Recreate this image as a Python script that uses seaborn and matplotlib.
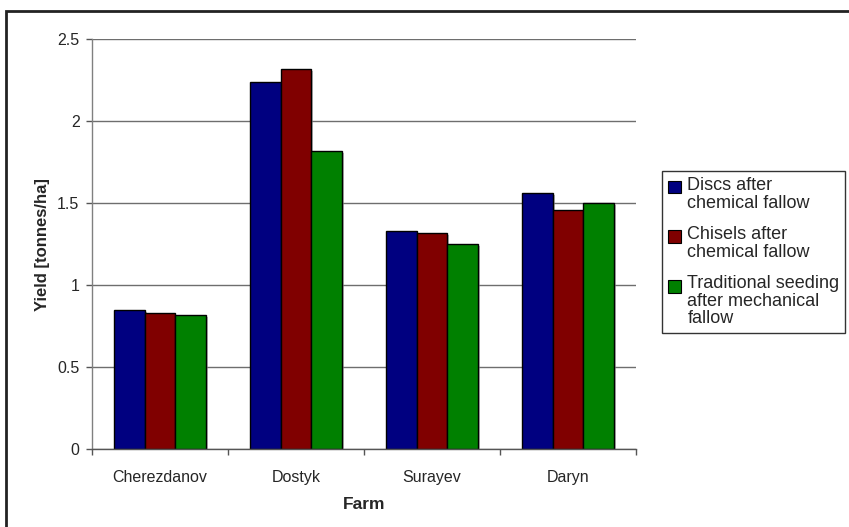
import matplotlib
matplotlib.use("Agg")
import matplotlib.pyplot as plt
import matplotlib.patheffects as pe
from matplotlib.patches import Rectangle
from matplotlib.legend_handler import HandlerPatch
from matplotlib.ticker import FixedLocator
import seaborn as sns
import pandas as pd

# Yields per farm and seeding treatment
farms = ["Cherezdanov", "Dostyk", "Surayev", "Daryn"]
treatments = [
    "Discs after\nchemical fallow",
    "Chisels after\nchemical fallow",
    "Traditional seeding\nafter mechanical\nfallow",
]
discs_chemical = [0.85, 2.24, 1.33, 1.56]
chisels_chemical = [0.83, 2.32, 1.32, 1.46]
traditional_mechanical = [0.82, 1.82, 1.25, 1.50]
colors = ["#000080", "#800000", "#008000"]
y_ticks = [0, 0.5, 1, 1.5, 2, 2.5]

rows = []
for t, vals in zip(treatments, [discs_chemical, chisels_chemical, traditional_mechanical]):
    for f, v in zip(farms, vals):
        rows.append({"Farm": f, "Treatment": t, "Yield": v})
df = pd.DataFrame(rows)

sns.set_style("white")
plt.rcParams["font.family"] = ["Liberation Sans", "DejaVu Sans"]

W, H = 849, 527
fig = plt.figure(figsize=(W / 100, H / 100), dpi=100)
ax = fig.add_axes([92 / W, (H - 449) / H, (636 - 92) / W, (449 - 39.3) / H])

sns.barplot(
    data=df, x="Farm", y="Yield", hue="Treatment", order=farms,
    hue_order=treatments, palette=dict(zip(treatments, colors)),
    width=0.67, edgecolor="black", linewidth=1, saturation=1,
    errorbar=None, ax=ax, legend=False,
)

shadow = [pe.SimplePatchShadow(offset=(1.5, -1.5), shadow_rgbFace="0.55", alpha=0.6), pe.Normal()]
for bar in ax.patches:
    bar.set_path_effects(shadow)

ax.set_ylim(0, 2.5)
ax.set_xlim(-0.5, len(farms) - 0.5)
ax.set_yticks(y_ticks)
ax.set_yticklabels(["0", "0.5", "1", "1.5", "2", "2.5"])
ax.yaxis.grid(True, color="#6e6e6e", linewidth=1)
ax.set_axisbelow(True)

for s in ["top", "right"]:
    ax.spines[s].set_visible(False)
ax.spines["left"].set_color("#808080")
ax.spines["bottom"].set_color("#555555")
ax.spines["left"].set_linewidth(1)
ax.spines["bottom"].set_linewidth(1)

ax.tick_params(axis="y", which="major", length=4, width=1, color="#555555",
               direction="out", pad=5, labelsize=11.5, left=True)
ax.tick_params(axis="x", which="major", length=0, pad=15, labelsize=11.5)
ax.xaxis.set_minor_locator(FixedLocator([i - 0.5 for i in range(len(farms) + 1)]))
ax.tick_params(axis="x", which="minor", length=4.5, width=1, color="#555555",
               direction="out", bottom=True)

ax.set_xlabel("Farm", fontsize=12.5, fontweight="bold", labelpad=9)
ax.set_ylabel("Yield [tonnes/ha]", fontsize=12, fontweight="bold", labelpad=5)

# Legend swatches sit beside the first line of each (multi-line) label
LEG_FS = 13
LEG_LINESPACING = 1.05
LINE_PT = 10.7


def top_aligned(nlines):
    shift = (nlines - 1) / 2 * LINE_PT

    def make(legend, orig_handle, xdescent, ydescent, width, height, fontsize):
        return Rectangle((-xdescent, -ydescent + shift), width, height)
    return HandlerPatch(patch_func=make)


handles = [Rectangle((0, 0), 1, 1, facecolor=c, edgecolor="black", linewidth=0.8)
           for c in colors]
handler_map = {h: top_aligned(t.count("\n") + 1) for h, t in zip(handles, treatments)}
leg = fig.legend(
    handles, treatments, handler_map=handler_map, loc="upper left",
    bbox_to_anchor=(662 / W, 1 - 171 / H),
    frameon=True, fancybox=False, shadow=False, fontsize=LEG_FS,
    handlelength=0.72, handleheight=0.72, handletextpad=0.35,
    labelspacing=0.8, borderpad=0.33, borderaxespad=0,
)
for txt in leg.get_texts():
    txt.set_linespacing(LEG_LINESPACING)
leg.get_frame().set_edgecolor("black")
leg.get_frame().set_linewidth(1)

# Outer chart frame
fig.add_artist(Rectangle((6 / W, -0.05), 1.1, 1 - 10.5 / H + 0.05, fill=False,
                         edgecolor="#222222", linewidth=2,
                         transform=fig.transFigure, clip_on=False))

fig.savefig("out.png", dpi=100)
